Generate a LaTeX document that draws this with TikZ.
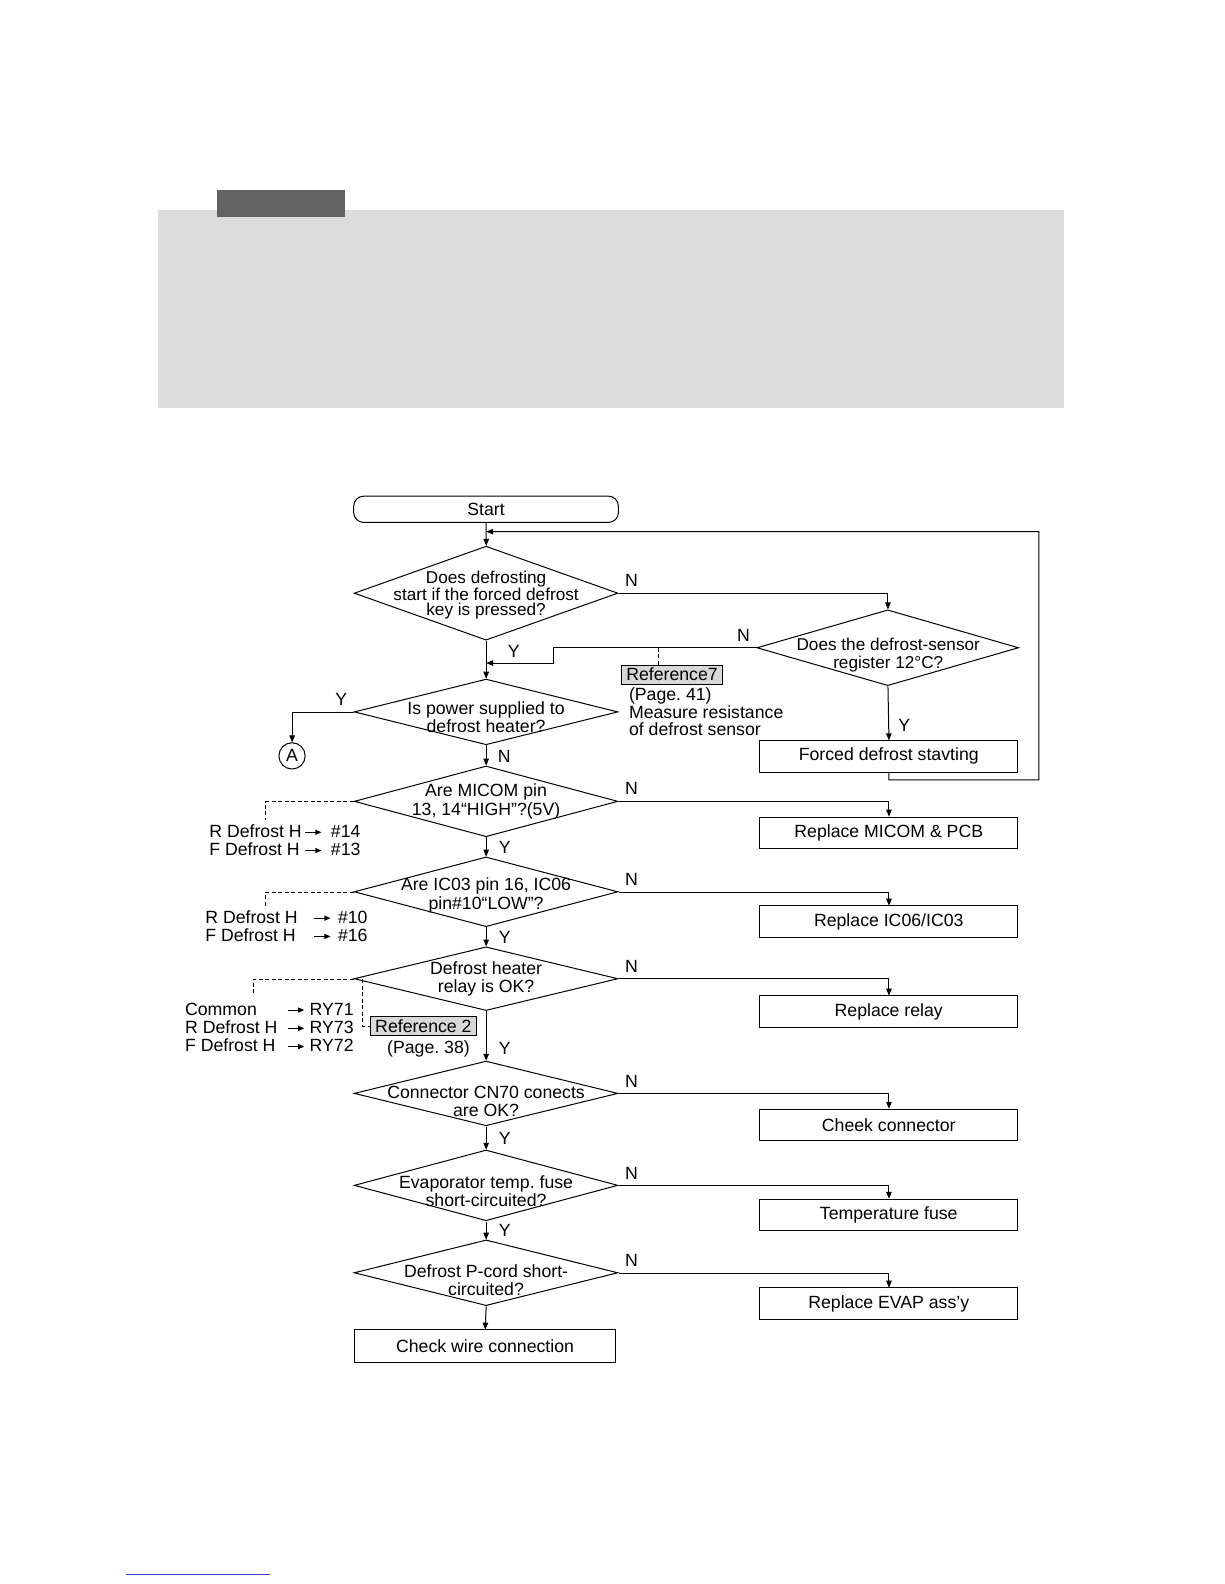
\documentclass[tikz,border=0pt]{standalone}
\usepackage{fontspec}
\setmainfont{Liberation Sans}
\usepackage{tikz}
\usetikzlibrary{arrows.meta,shapes.geometric,positioning}
\definecolor{panelgray}{HTML}{DCDCDC}
\definecolor{tabgray}{HTML}{636262}
\definecolor{refgray}{HTML}{D8D8D8}
\definecolor{linkblue}{HTML}{3344CC}
\newcommand{\rarr}{\tikz[baseline=0pt]\draw[-{Triangle[length=6pt,width=5pt]},line width=0.9pt] (0pt,0.3em) -- (16pt,0.3em);}
\frenchspacing

\begin{document}
\begin{tikzpicture}[x=1pt,y=-1pt,scale=1.0105,line width=1pt,
    every node/.style={font=\fontsize{17.5pt}{18pt}\selectfont,transform shape},
    dec/.style={draw,diamond,minimum width=261pt,inner sep=0pt},
    act/.style={draw,rectangle,minimum width=255pt,minimum height=31pt,inner sep=0pt},
    txt/.style={align=center,inner sep=0pt},
    refbox/.style={draw,fill=refgray,line width=0.8pt,inner xsep=5pt,inner ysep=0pt,minimum height=19pt},
    arr/.style={-{Triangle[length=7pt,width=5.5pt]}},
    yn/.style={inner sep=6pt},
    note/.style={line width=0.8pt,dash pattern=on 4pt off 2.5pt}]
    \useasboundingbox (0,0) rectangle (1211.3,1567.5);
    % page header panel
    \fill[panelgray] (156,208) rectangle (1053,404);
    \fill[tabgray] (215,188) rectangle (341,215);
    \draw[linkblue,line width=0.8pt] (125,1558) -- (267,1558);

    % main column
    \node[draw,rounded corners=10pt,minimum width=262pt,minimum height=26pt,inner sep=0pt] (st) at (481,504) {Start};
    \node[dec,minimum height=93pt] (D1) at (481,587) {};
    \node[txt,font=\fontsize{17pt}{14.5pt}\selectfont] (D1t) at (481,589) {Does defrosting\\start if the forced defrost\\key is pressed?};
    \node[dec,minimum height=65pt] (D3) at (481,704.5) {};
    \node[txt] (D3t) at (481,710) {Is power supplied to\\defrost heater?};
    \node[dec,minimum height=70pt] (D4) at (481,793) {};
    \node[txt] (D4t) at (481,793) {Are MICOM pin\\13, 14“HIGH”?(5V)};
    \node[dec,minimum height=69pt] (D5) at (481,882.5) {};
    \node[txt] (D5t) at (481,886) {Are IC03 pin 16, IC06\\pin\#10“LOW”?};
    \node[dec,minimum height=63pt] (D6) at (481,968.5) {};
    \node[txt] (D6t) at (481,969) {Defrost heater\\relay is OK?};
    \node[dec,minimum height=64pt] (D7) at (481,1082) {};
    \node[txt] (D7t) at (481,1090) {Connector CN70 conects\\are OK?};
    \node[dec,minimum height=70pt] (D8) at (481,1173) {};
    \node[txt] (D8t) at (481,1179) {Evaporator temp. fuse\\short-circuited?};
    \node[dec,minimum height=65pt] (D9) at (481,1259.5) {};
    \node[txt] (D9t) at (481,1267) {Defrost P-cord short-\\circuited?};
    \node[act,minimum width=258pt,minimum height=32pt] (cw) at (480,1332) {Check wire connection};

    % right column
    \node[dec,minimum width=259pt,minimum height=75pt] (D2) at (878.5,641) {};
    \node[txt,font=\fontsize{17pt}{18pt}\selectfont] (D2t) at (879,648) {Does the defrost-sensor\\register 12°C?};
    \node[act] (fd) at (879.5,748.5) {Forced defrost stavting};
    \node[act] (R1) at (879.5,824) {Replace MICOM \& PCB};
    \node[act] (R2) at (879.5,912) {Replace IC06/IC03};
    \node[act] (R3) at (879.5,1001) {Replace relay};
    \node[act] (R4) at (879.5,1113) {Cheek connector};
    \node[act] (R5) at (879.5,1202) {Temperature fuse};
    \node[act] (R6) at (879.5,1290) {Replace EVAP ass’y};

    \node[draw,circle,minimum size=26pt,inner sep=0pt] (cA) at (289,748) {A};

    % references and notes
    \node[refbox] (ref7) at (665,667.5) {Reference7};
    \node[anchor=north west,align=left,inner sep=0pt,font=\fontsize{17.5pt}{17.5pt}\selectfont] (m7) at (622,680) {(Page. 41)\\Measure resistance\\of defrost sensor};
    \node[refbox] (ref2) at (419,1015.5) {Reference 2};
    \node[inner sep=0pt] (p38) at (424,1038) {(Page. 38)};
    \node[anchor=north west,inner sep=0pt] (n4) at (207,816) {\begin{tabular}{@{}l@{\hspace{3pt}}c@{\hspace{9pt}}l@{}}R Defrost H&\rarr&\#14\\F Defrost H&\rarr&\#13\end{tabular}};
    \node[anchor=north west,inner sep=0pt] (n5) at (203,901) {\begin{tabular}{@{}l@{\hspace{16pt}}c@{\hspace{7pt}}l@{}}R Defrost H&\rarr&\#10\\F Defrost H&\rarr&\#16\end{tabular}};
    \node[anchor=north west,inner sep=0pt] (n6) at (183,992) {\begin{tabular}{@{}l@{\hspace{10pt}}c@{\hspace{5pt}}r@{}}Common&\rarr&RY71\\R Defrost H&\rarr&RY73\\F Defrost H&\rarr&RY72\end{tabular}};

    \coordinate (j1) at (481,526);
    \coordinate (j2) at (481,656);
    \coordinate (r7) at (651,641);
    \coordinate (l4) at (263,811);
    \coordinate (l5) at (263,897);
    \coordinate (l6) at (251,985);
    \coordinate (r2) at (359,969);

    % connectors
    \draw[arr] (st) -- (D1);
    \draw[arr] (D1.south) -- node[pos=0.29,right,yn,xshift=15pt]{Y} (D3.north);
    \draw[arr] (D1.east) -| node[pos=0,above right,yn]{N} (D2.north);
    \draw[arr] (D2.west) -- node[pos=0,above left,yn]{N} ++(-201,0) |- (j2);
    \draw[arr] (D2.south) -- node[pos=0.72,right,yn,xshift=3pt]{Y} (fd.north);
    \draw[arr] (fd.south) -- ++(0,7) -| (1028,526) -- (j1);
    \draw[arr] (D3.west) -| node[pos=0,above left,yn]{Y} (cA.north);
    \draw[arr] (D3.south) -- node[pos=0.55,right,yn,xshift=5pt]{N} (D4.north);
    \foreach \d/\r in {D4/R1,D5/R2,D6/R3,D7/R4,D8/R5,D9/R6}
      \draw[arr] (\d.east) -| node[pos=0,above right,yn]{N} (\r.north);
    \foreach \a/\b/\p in {D4/D5/0.5,D5/D6/0.5,D6/D7/0.75,D7/D8/0.5,D8/D9/0.5}
      \draw[arr] (\a.south) -- node[pos=\p,right,yn,xshift=6pt]{Y} (\b.north);
    \draw[arr] (D9.south) -- (cw.north);
    \draw[note] (r7) -- (r7 |- ref7.north);
    \draw[note] (D4.west) -| (l4);
    \draw[note] (D5.west) -| (l5);
    \draw[note] (D6.west) -| (l6);
    \draw[note] (r2) |- (ref2.west);
\end{tikzpicture}
\end{document}
